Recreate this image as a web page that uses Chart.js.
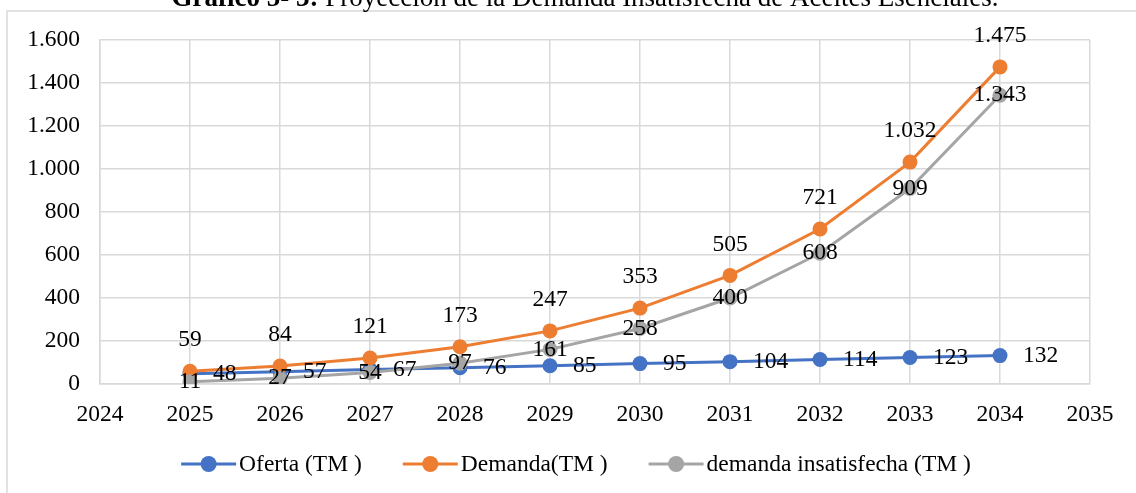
<!DOCTYPE html>
<html>
<head>
<meta charset="utf-8">
<title>Gráfico 5- 3</title>
<script src="https://cdn.jsdelivr.net/npm/chart.js@4.4.1/dist/chart.umd.min.js"></script>
<style>
  html, body { margin: 0; padding: 0; background: #fff; }
  #wrap { width: 1136px; height: 493px; }
</style>
</head>
<body>
<div id="wrap"><canvas id="grafico" width="1136" height="493"></canvas></div>
<script>
// data
const years = [2025, 2026, 2027, 2028, 2029, 2030, 2031, 2032, 2033, 2034];
const oferta = [48, 57, 67, 76, 85, 95, 104, 114, 123, 132];
const demanda = [59, 84, 121, 173, 247, 353, 505, 721, 1032, 1475];
const insatisfecha = [11, 27, 54, 97, 161, 258, 400, 608, 909, 1343];
const seriesNames = ['Oferta (TM )', 'Demanda(TM )', 'demanda insatisfecha (TM )'];
const xRange = [2024, 2035];
const yRange = [0, 1600];
const titleBold = 'Gráfico 5- 3: ';
const titleText = 'Proyección de la Demanda Insatisfecha de Aceites Esenciales.';

const FONT = '"Liberation Serif", "Times New Roman", serif';
const GRID = '#D9D9D9';

// 1475 -> "1.475"
function fmt(v) {
    return String(v).replace(/\B(?=(\d{3})+(?!\d))/g, '.');
}

function points(vals) {
    return years.map((y, i) => ({ x: y, y: vals[i] }));
}

function serie(label, vals, color, order, place) {
    return {
        label: label,
        data: points(vals),
        borderColor: color,
        backgroundColor: color,
        borderWidth: 3,
        pointRadius: 7.5,
        pointHoverRadius: 7.5,
        pointBorderWidth: 0,
        tension: 0,
        order: order,
        labelPlace: place
    };
}

// outer frame and the (cut) caption above it
const framePlugin = {
    id: 'frame',
    beforeDraw(chart) {
        const c = chart.ctx;
        c.save();
        c.strokeStyle = GRID;
        c.lineWidth = 1.5;
        c.strokeRect(7, 11, 1140, 500);
        c.restore();
    },
    afterDraw(chart) {
        const c = chart.ctx;
        c.save();
        c.fillStyle = '#000';
        c.textBaseline = 'alphabetic';
        c.font = 'bold 27px ' + FONT;
        const wb = c.measureText(titleBold).width;
        c.font = '27px ' + FONT;
        const wn = c.measureText(titleText).width;
        let x = 585 - (wb + wn) / 2;
        c.font = 'bold 27px ' + FONT;
        c.fillText(titleBold, x, 6);
        c.font = '27px ' + FONT;
        c.fillText(titleText, x + wb, 6);
        c.restore();
    }
};

// value labels next to each point
const labelPlugin = {
    id: 'valueLabels',
    afterDatasetsDraw(chart) {
        const c = chart.ctx;
        c.save();
        c.font = '23.5px ' + FONT;
        c.fillStyle = '#000';
        c.textBaseline = 'middle';
        chart.data.datasets.forEach((ds, i) => {
            const meta = chart.getDatasetMeta(i);
            meta.data.forEach((pt, j) => {
                const txt = fmt(ds.data[j].y);
                if (ds.labelPlace === 'right') {
                    c.textAlign = 'left';
                    c.fillText(txt, pt.x + 23, pt.y);
                } else if (ds.labelPlace === 'above') {
                    c.textAlign = 'center';
                    c.fillText(txt, pt.x, pt.y - 31);
                } else {
                    c.textAlign = 'center';
                    c.fillText(txt, pt.x, pt.y);
                }
            });
        });
        c.restore();
    }
};

// excel style legend: line with a marker, then the text
const legendPlugin = {
    id: 'lineLegend',
    afterDraw(chart) {
        const c = chart.ctx;
        c.save();
        c.font = '23.5px ' + FONT;
        const lineLen = 55, gap = 3, spacing = 41;
        const items = chart.data.datasets.map(ds => ({
            ds: ds,
            w: lineLen + gap + c.measureText(ds.label).width
        }));
        const total = items.reduce((s, it) => s + it.w, 0) + spacing * (items.length - 1);
        let x = 576 - total / 2;
        const y = 464;
        items.forEach(it => {
            c.strokeStyle = it.ds.borderColor;
            c.fillStyle = it.ds.borderColor;
            c.lineWidth = 3;
            c.beginPath();
            c.moveTo(x, y);
            c.lineTo(x + lineLen, y);
            c.stroke();
            c.beginPath();
            c.arc(x + lineLen / 2, y, 8, 0, Math.PI * 2);
            c.fill();
            c.fillStyle = '#000';
            c.textAlign = 'left';
            c.textBaseline = 'middle';
            c.fillText(it.ds.label, x + lineLen + gap, y + 1);
            x += it.w + spacing;
        });
        c.restore();
    }
};

const ctx = document.getElementById('grafico').getContext('2d');

const chart = new Chart(ctx, {
    type: 'line',
    data: {
        datasets: [
            serie(seriesNames[0], oferta, '#4472C4', 3, 'right'),
            serie(seriesNames[1], demanda, '#ED7D31', 2, 'above'),
            serie(seriesNames[2], insatisfecha, '#A5A5A5', 1, 'center')
        ]
    },
    options: {
        responsive: false,
        animation: false,
        events: [],
        layout: { padding: { left: 0, right: 46, top: 40, bottom: 0 } },
        plugins: {
            legend: { display: false },
            title: { display: false },
            tooltip: { enabled: false }
        },
        scales: {
            x: {
                type: 'linear',
                min: xRange[0],
                max: xRange[1],
                afterFit: s => { s.height = 109; },
                grid: { color: GRID, lineWidth: 1.5, drawTicks: false },
                border: { color: GRID, width: 1.5 },
                ticks: {
                    stepSize: 1,
                    padding: 17,
                    color: '#000',
                    font: { family: FONT, size: 23.5 },
                    callback: v => String(v)
                }
            },
            y: {
                min: yRange[0],
                max: yRange[1],
                afterFit: s => { s.width = 100; },
                grid: { color: GRID, lineWidth: 1.5, drawTicks: false },
                border: { color: GRID, width: 1.5 },
                ticks: {
                    stepSize: 200,
                    padding: 20,
                    color: '#000',
                    font: { family: FONT, size: 23.5 },
                    callback: v => fmt(v)
                }
            }
        }
    },
    plugins: [framePlugin, labelPlugin, legendPlugin]
});
</script>
</body>
</html>
